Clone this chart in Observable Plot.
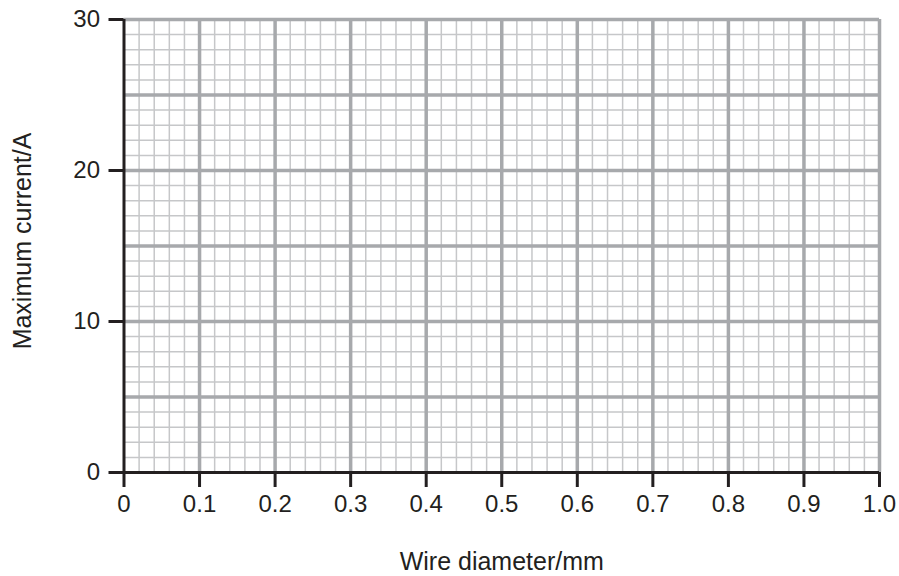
<!DOCTYPE html>
<html>
<head>
<meta charset="utf-8">
<script src="https://cdn.jsdelivr.net/npm/d3@7"></script>
<script src="https://cdn.jsdelivr.net/npm/@observablehq/plot@0.6"></script>
<style>
  html, body { margin: 0; padding: 0; background: #fff; }
</style>
</head>
<body>
<div id="chart"></div>
<script>
const xLabel = "Wire diameter/mm";
const yLabel = "Maximum current/A";
const xTicks = [0, 0.1, 0.2, 0.3, 0.4, 0.5, 0.6, 0.7, 0.8, 0.9, 1.0];
const xTickLabels = ["0", "0.1", "0.2", "0.3", "0.4", "0.5", "0.6", "0.7", "0.8", "0.9", "1.0"];
const yTicks = [0, 10, 20, 30];
const xMajorGrid = [0.1, 0.2, 0.3, 0.4, 0.5, 0.6, 0.7, 0.8, 0.9, 1.0];
const yMajorGrid = [5, 10, 15, 20, 25, 30];
const xMinorGrid = [0.02, 0.04, 0.06, 0.08, 0.12, 0.14, 0.16, 0.18, 0.22, 0.24, 0.26, 0.28,
  0.32, 0.34, 0.36, 0.38, 0.42, 0.44, 0.46, 0.48, 0.52, 0.54, 0.56, 0.58,
  0.62, 0.64, 0.66, 0.68, 0.72, 0.74, 0.76, 0.78, 0.82, 0.84, 0.86, 0.88,
  0.92, 0.94, 0.96, 0.98];
const yMinorGrid = [1, 2, 3, 4, 6, 7, 8, 9, 11, 12, 13, 14, 16, 17, 18, 19, 21, 22, 23, 24, 26, 27, 28, 29];

const font = "'Liberation Sans', Arial, sans-serif";
const axisColor = "#231f20";
const majorColor = "#a7a9ac";
const minorColor = "#c6c7c9";

const chart = Plot.plot({
  width: 899,
  height: 576,
  marginLeft: 123.5,
  marginRight: 20,
  marginTop: 19,
  marginBottom: 104,
  style: { fontFamily: font, background: "#fff", color: axisColor },
  x: { domain: [0, 1], ticks: xTicks },
  y: { domain: [0, 30], ticks: yTicks },
  marks: [
    Plot.ruleX(xMinorGrid, { stroke: minorColor, strokeWidth: 1.5 }),
    Plot.ruleY(yMinorGrid, { stroke: minorColor, strokeWidth: 1.5 }),
    Plot.ruleX(xMajorGrid, { stroke: majorColor, strokeWidth: 3.5 }),
    Plot.ruleY(yMajorGrid, { stroke: majorColor, strokeWidth: 3.5 }),
    Plot.axisX({
      ticks: xTicks,
      tickFormat: (d, i) => xTickLabels[i],
      tickSize: 15,
      tickPadding: 7,
      fontSize: 24,
      strokeWidth: 3,
      stroke: axisColor,
      fill: axisColor,
      label: null
    }),
    Plot.axisY({
      ticks: yTicks,
      tickSize: 15,
      tickPadding: 9,
      fontSize: 24,
      strokeWidth: 3,
      stroke: axisColor,
      fill: axisColor,
      label: null
    }),
    Plot.ruleY([0], { stroke: axisColor, strokeWidth: 3 }),
    Plot.ruleX([0], { stroke: axisColor, strokeWidth: 3 }),
    Plot.text([xLabel], {
      text: d => d,
      frameAnchor: "bottom",
      textAnchor: "middle",
      lineAnchor: "middle",
      dy: 89,
      fontSize: 25,
      fill: axisColor
    }),
    Plot.text([yLabel], {
      text: d => d,
      frameAnchor: "left",
      textAnchor: "middle",
      lineAnchor: "middle",
      rotate: -90,
      dx: -101,
      dy: -5,
      fontSize: 25,
      fill: axisColor
    })
  ]
});
document.getElementById("chart").appendChild(chart);
</script>
</body>
</html>
